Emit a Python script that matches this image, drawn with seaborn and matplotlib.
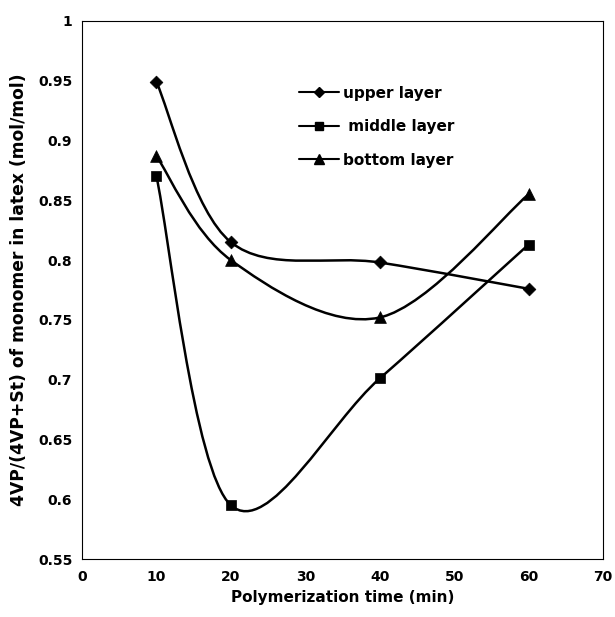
import numpy as np
import pandas as pd
import matplotlib
matplotlib.use("Agg")
import matplotlib.pyplot as plt
import seaborn as sns
from matplotlib.path import Path
from matplotlib.patches import PathPatch
from matplotlib.lines import Line2D

# data
time_min = [10, 20, 40, 60]
upper_layer = [0.949, 0.815, 0.798, 0.776]
middle_layer = [0.870, 0.595, 0.701, 0.813]
bottom_layer = [0.887, 0.800, 0.752, 0.855]

series_names = ["upper layer", " middle layer", "bottom layer"]
series_values = [upper_layer, middle_layer, bottom_layer]
series_markers = ["D", "s", "^"]
marker_sizes = [6.5, 7, 8.5]

x_ticks = [0, 10, 20, 30, 40, 50, 60, 70]
y_ticks = [0.55, 0.6, 0.65, 0.7, 0.75, 0.8, 0.85, 0.9, 0.95, 1]
y_tick_labels = ["0.55", "0.6", "0.65", "0.7", "0.75", "0.8", "0.85", "0.9", "0.95", "1"]

sns.set_style("white")
plt.rcParams['font.family'] = ['DejaVu Sans']
plt.rcParams['text.color'] = 'black'
plt.rcParams['axes.labelcolor'] = 'black'
plt.rcParams['xtick.color'] = 'black'
plt.rcParams['ytick.color'] = 'black'


def smooth_path(xs, ys):
    # Excel-like smoothed line: Catmull-Rom segments as cubic Beziers
    pts = list(zip(xs, ys))
    verts = [pts[0]]
    codes = [Path.MOVETO]
    for i in range(len(pts) - 1):
        p0 = pts[i - 1] if i > 0 else pts[i]
        p1 = pts[i]
        p2 = pts[i + 1]
        p3 = pts[i + 2] if i + 2 < len(pts) else pts[i + 1]
        c1 = (p1[0] + (p2[0] - p0[0]) / 6, p1[1] + (p2[1] - p0[1]) / 6)
        c2 = (p2[0] - (p3[0] - p1[0]) / 6, p2[1] - (p3[1] - p1[1]) / 6)
        verts += [c1, c2, p2]
        codes += [Path.CURVE4] * 3
    return Path(verts, codes)


df = pd.DataFrame({
    "time": time_min * 3,
    "value": upper_layer + middle_layer + bottom_layer,
    "layer": [n for n in series_names for _ in time_min],
})

fig = plt.figure(figsize=(6.15, 6.17), dpi=100)
ax = fig.add_axes([0.1333, 0.094, 0.8472, 0.872])

for name, vals in zip(series_names, series_values):
    ax.add_patch(PathPatch(smooth_path(time_min, vals), facecolor="none",
                           edgecolor="black", lw=1.8, zorder=2))

for name, m, ms in zip(series_names, series_markers, marker_sizes):
    sub = df[df["layer"] == name]
    sns.scatterplot(data=sub, x="time", y="value", marker=m, s=ms ** 2,
                    color="black", edgecolor="black", linewidth=0.5, ax=ax,
                    zorder=3, legend=False)

ax.set_xlim(0, 70)
ax.set_ylim(0.55, 1)
ax.set_xticks(x_ticks)
ax.set_yticks(y_ticks)
ax.set_yticklabels(y_tick_labels)
ax.tick_params(axis="x", direction="in", length=4, width=0.8, labelsize=10, pad=8)
ax.tick_params(axis="y", direction="out", length=3, width=0.8, labelsize=10, pad=4)
for lab in ax.get_xticklabels() + ax.get_yticklabels():
    lab.set_fontweight("bold")

for s in ax.spines.values():
    s.set_visible(True)
    s.set_color("black")
    s.set_linewidth(0.8)

ax.set_xlabel("Polymerization time (min)", fontsize=11, fontweight="bold", labelpad=4)
ax.set_ylabel("4VP/(4VP+St) of monomer in latex (mol/mol)", fontsize=12.3,
              fontweight="bold", labelpad=7)

handles = [Line2D([], [], color="black", lw=1.5, marker=m, markersize=ms * 0.85)
           for m, ms in zip(series_markers, marker_sizes)]
ax.legend(handles, series_names, loc="upper left", bbox_to_anchor=(0.39, 0.905),
          frameon=False, labelspacing=1.2, handlelength=2.6, handletextpad=0.3,
          prop={"size": 11, "weight": "bold"})

fig.savefig("out.png", dpi=100)
